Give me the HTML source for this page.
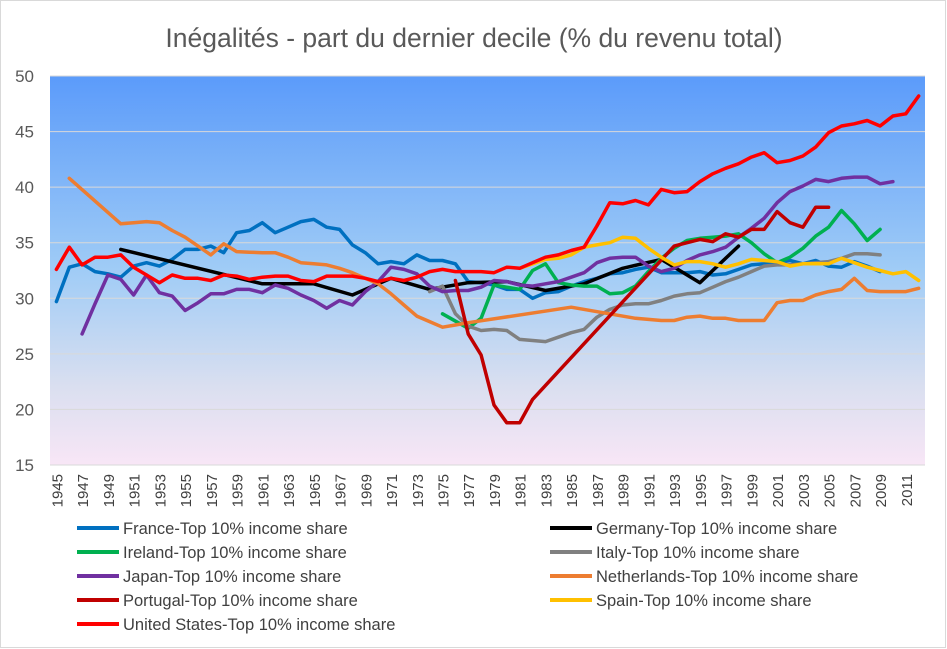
<!DOCTYPE html>
<html><head><meta charset="utf-8"><style>
body{margin:0;background:#fff}
svg{display:block;font-family:"Liberation Sans",sans-serif}
</style></head><body>
<svg id="c" width="947" height="649" xmlns="http://www.w3.org/2000/svg">
<defs><linearGradient id="g" x1="0" y1="0" x2="0" y2="1">
<stop offset="0" stop-color="#5b9bfa"/><stop offset="0.5" stop-color="#a0ccf6"/><stop offset="0.8" stop-color="#dadff0"/><stop offset="1" stop-color="#f8e6f6"/></linearGradient></defs>
<rect x="0.5" y="0.5" width="945" height="647" fill="#fff" stroke="#d9d9d9" stroke-width="1"/>
<text x="474" y="47" text-anchor="middle" font-size="26.5" fill="#595959">Inégalités - part du dernier decile (% du revenu total)</text>
<rect x="50" y="76" width="875" height="389" fill="url(#g)"/>
<g id="grid"></g><g id="lines"></g><g id="lab"></g>
</svg>
<script>
const NS="http://www.w3.org/2000/svg",s=document.getElementById('c');
const X=y=>56.4+(y-1945)*12.87, Y=v=>465-(v-15)*11.114;
function el(t,a,p,txt){const e=document.createElementNS(NS,t);for(const k in a)e.setAttribute(k,a[k]);if(txt!=null)e.textContent=txt;document.getElementById(p).appendChild(e);return e;}
for(let v=15;v<=50;v+=5){el('line',{x1:50,x2:925,y1:Y(v),y2:Y(v),stroke:'#d9d9d9','stroke-width':1},'grid');
el('text',{x:34,y:Y(v)+6,'text-anchor':'end','font-size':17,fill:'#595959'},'lab',v);}
for(let y=1945;y<=2011;y+=2){el('text',{transform:`translate(${X(y)+6},474) rotate(-90)`,'text-anchor':'end','font-size':15,fill:'#404040'},'lab',y);}
function seq(start,arr){return arr.map((v,i)=>[start+i,v]);}
const D={
fr:['#0070c0',seq(1945,[29.7,32.8,33.1,32.4,32.2,31.9,32.9,33.2,32.9,33.5,34.4,34.4,34.7,34.1,35.9,36.1,36.8,35.9,36.4,36.9,37.1,36.4,36.2,34.8,34.1,33.1,33.3,33.1,33.9,33.4,33.4,33.1,31.5,31.4,31.2,30.8,30.8,30.0,30.5,30.6,31.1,31.5,31.8,32.2,32.3,32.6,32.8,32.3,32.3,32.3,32.4,32.1,32.2,32.6,33.0,33.1,33.2,33.4,33.1,33.4,32.9,32.8,33.3,32.9,32.4])],
de:['#000',[[1950,34.4],[1961,31.3],[1965,31.3],[1968,30.3],[1971,31.8],[1974,30.8],[1977,31.4],[1980,31.5],[1983,30.7],[1986,31.3],[1989,32.7],[1992,33.5],[1995,31.4],[1998,34.7]]],
it:['#808080',seq(1974,[30.6,31.1,28.6,27.5,27.1,27.2,27.1,26.3,26.2,26.1,26.5,26.9,27.2,28.3,29.0,29.4,29.5,29.5,29.8,30.2,30.4,30.5,31.0,31.5,31.9,32.4,32.9,33.0,33.0,33.1,33.2,33.3,33.6,34.0,34.0,33.9])],
nl:['#ed7d31',[[1946,40.8],[1950,36.7],...seq(1951,[36.8,36.9,36.8,36.1,35.5,34.7,33.9,34.9,34.2,34.15,34.1,34.1,33.7,33.2,33.1,33.0,32.7,32.3,31.8,31.3,30.4,29.4,28.4,27.9,27.4,27.6,27.8]),[1985,29.2],[1990,28.2],...seq(1992,[28.0,28.0,28.3,28.4,28.2,28.2,28.0,28.0,28.0,29.6,29.8,29.8,30.3,30.6,30.8,31.8,30.7,30.6,30.6,30.6,30.9])]],
ie:['#00b050',[[1975,28.6],[1977,27.3],...seq(1978,[28.2,31.2,31.0,30.8,32.5,33.1,31.4,31.2,31.1,31.1,30.4,30.5,31.1,32.4,33.6,34.5,35.2,35.4,35.5,35.6,35.8,35.0,34.0,33.2,33.7,34.5,35.6,36.4,37.9,36.7,35.2,36.2])]],
jp:['#7030a0',seq(1947,[26.8,29.5,32.1,31.7,30.3,32.1,30.5,30.2,28.9,29.6,30.4,30.4,30.8,30.8,30.5,31.2,30.9,30.3,29.8,29.1,29.8,29.4,30.6,31.5,32.8,32.6,32.2,31.1,30.6,30.7,30.7,31.0,31.6,31.5,31.2,31.1,31.3,31.5,31.9,32.3,33.2,33.6,33.7,33.7,32.9,32.4,32.7,33.4,33.9,34.2,34.6,35.5,36.3,37.2,38.6,39.6,40.1,40.7,40.5,40.8,40.9,40.9,40.3,40.5])],
pt:['#c00000',[...seq(1976,[31.6,26.8,24.9,20.4,18.8,18.8,20.9]),[1993,34.7],...seq(1994,[35.0,35.3,35.1,35.8,35.5,36.2,36.2,37.8,36.8,36.4,38.2,38.2])]],
es:['#ffc000',seq(1981,[32.7,33.1,33.5,33.6,33.9,34.6,34.8,35.0,35.5,35.4,34.5,33.7,33.0,33.3,33.3,33.1,32.8,33.1,33.5,33.4,33.3,32.9,33.1,33.1,33.1,33.6,33.2,32.8,32.5,32.2,32.4,31.6])],
us:['#ff0000',seq(1945,[32.6,34.6,33.0,33.7,33.7,33.9,32.8,32.1,31.4,32.1,31.8,31.8,31.6,32.1,32.0,31.7,31.9,32.0,32.0,31.6,31.5,32.0,32.0,32.0,31.8,31.5,31.8,31.6,31.9,32.4,32.6,32.4,32.4,32.4,32.3,32.8,32.7,33.2,33.7,33.9,34.3,34.6,36.5,38.6,38.5,38.8,38.4,39.8,39.5,39.6,40.5,41.2,41.7,42.1,42.7,43.1,42.2,42.4,42.8,43.6,44.9,45.5,45.7,46.0,45.5,46.4,46.6,48.2])]
};
for(const k of ['fr','de','ie','it','jp','nl','pt','es','us']){const [c,p]=D[k];
el('polyline',{points:p.map(q=>X(q[0]).toFixed(1)+','+Y(q[1]).toFixed(1)).join(' '),fill:'none',stroke:c,'stroke-width':3.5,'stroke-linejoin':'round','stroke-linecap':'round'},'lines');}
const L=[['fr','France'],['de','Germany'],['ie','Ireland'],['it','Italy'],['jp','Japan'],['nl','Netherlands'],['pt','Portugal'],['es','Spain'],['us','United States']];
L.forEach((l,i)=>{const cx=i%2?550:77,cy=528+Math.floor(i/2)*24;
el('line',{x1:cx,x2:cx+42,y1:cy,y2:cy,stroke:D[l[0]][0],'stroke-width':4},'lab');
el('text',{x:cx+46,y:cy+6,'font-size':16.5,fill:'#404040'},'lab',l[1]+'-Top 10% income share');});
</script>
</body></html>
